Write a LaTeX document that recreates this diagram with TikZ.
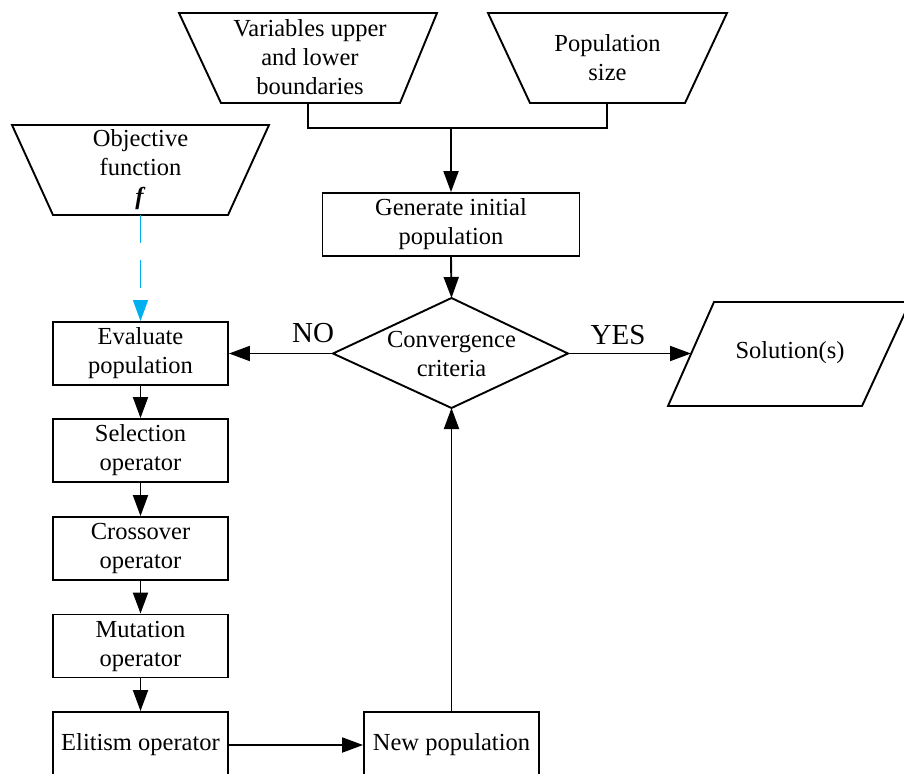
\documentclass[tikz,border=0pt]{standalone}
\usepackage{fontspec}
\setmainfont{Liberation Serif}
\usetikzlibrary{arrows.meta}
\definecolor{skyblue}{RGB}{0,176,240}
\begin{document}
\begin{tikzpicture}[x=1pt,y=-1pt,
  line width=1.9pt,
  txt/.style={font=\rmfamily\fontsize{24.5}{29}\selectfont, align=center, inner sep=0pt},
  box/.style={txt, draw, rectangle, minimum width=175pt, minimum height=63pt},
  big/.style={font=\rmfamily\fontsize{29}{34}\selectfont, inner sep=0pt},
  arr/.style={-{Triangle[length=21pt,width=15pt]}},
  dasharr/.style={draw=skyblue, line width=1.3pt, dash pattern=on 28pt off 17pt,
                  -{Triangle[length=21pt,width=15pt,fill=skyblue]}},
  ]
\path[use as bounding box] (0,0) rectangle (904,773);
\clip (0,0) rectangle (904,773);

% input trapezoids
\draw (179,13) -- (437,13) -- (400,103) -- (221,103) -- cycle;
\node[txt] (var) at (310,57) {Variables upper\\and lower\\boundaries};
\coordinate (varB) at (308,103);

\draw (488,13) -- (727,13) -- (685,103) -- (530,103) -- cycle;
\node[txt] (pop) at (607.5,58) {Population\\size};
\coordinate (popB) at (607,103);

\draw (12,125) -- (269,125) -- (228,215) -- (53,215) -- cycle;
\node[txt] (obj) at (140.5,170) {Objective\\function\\\textbf{\textit{f}}};
\coordinate (objB) at (140.5,215);

% process boxes
\node[box, minimum width=257pt] (gen) at (451,224.5) {Generate initial\\population};
\node[box] (eval) at (140.5,353.5) {Evaluate\\population};
\node[box] (sel) at (140.5,450.5) {Selection\\operator};
\node[box] (cross) at (140.5,548.5) {Crossover\\operator};
\node[box] (mut) at (140.5,646) {Mutation\\operator};
\node[box, minimum height=66pt] (elit) at (140.5,745) {Elitism operator};
\node[box, minimum height=66pt] (newp) at (451.5,745) {New population};

% decision diamond
\coordinate (dL) at (333,353.5);
\coordinate (dT) at (451.5,298);
\coordinate (dR) at (568,353.5);
\coordinate (dB) at (451.5,408);
\draw (dL) -- (dT) -- (dR) -- (dB) -- cycle;
\node[txt] (conv) at (451.5,354) {Convergence\\criteria};

% output parallelogram
\draw (714,302) -- (910,302) -- (862,406) -- (668,406) -- cycle;
\node[txt] (sol) at (790,353) {Solution(s)};
\coordinate (solL) at (691,353.5);

% connectors
\coordinate (jn) at (451,128);
\draw (varB) |- (jn) -| (popB);
\draw[arr] (jn) -- (gen.north);
\draw[arr] (gen.south) -- (dT);
\draw[arr] (dL) -- (eval.east);
\node[big] (no) at (313,333) {NO};
\draw[arr] (dR) -- (solL);
\node[big] (yes) at (618,335) {YES};
\draw[dasharr] (objB) -- (eval.north);
\draw[arr] (eval) -- (sel);
\draw[arr] (sel) -- (cross);
\draw[arr] (cross) -- (mut);
\draw[arr] (mut) -- (elit);
\draw[arr] (elit) -- (newp);
\draw[arr] (newp.north) -- (dB);
\end{tikzpicture}
\end{document}
